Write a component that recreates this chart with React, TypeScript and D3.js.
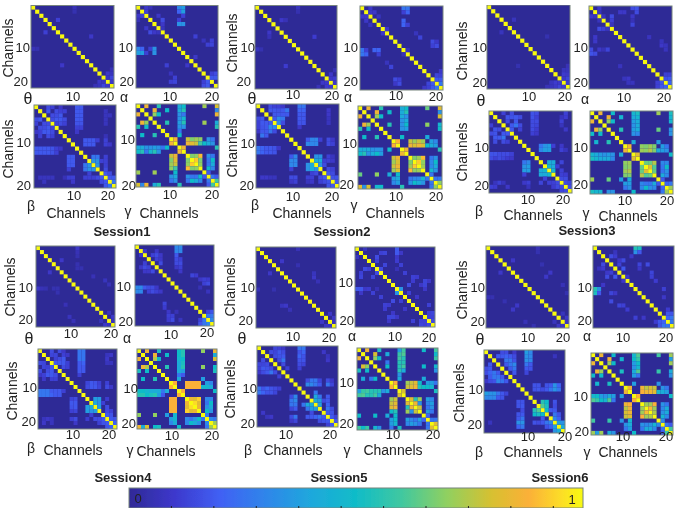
import React from 'react';
import * as d3 from 'd3';

const channels = d3.range(1, 21);
const bandNames = ['θ', 'α', 'β', 'γ'];
const sessionNames = ['Session1', 'Session2', 'Session3', 'Session4', 'Session5', 'Session6'];
const colorValues = [0, 0.1, 0.2, 0.3, 0.4, 0.5, 0.6, 0.7, 0.8, 0.88, 0.95, 1];
const colorSwatches = ['#2f2a96', '#3d38cc', '#4060f4', '#2f85ea', '#1fa8dc', '#10bcc8', '#40c8a0', '#90d060', '#d8c030', '#fbb038', '#fcdc28', '#f8fa10'];
const colorbarTicks = [0.1, 0.2, 0.3, 0.4, 0.5, 0.6, 0.7, 0.8, 0.9, 1];

// upper triangle only, "row col:percent col:percent ..."; diagonal is always 1
const s1Theta = ['1 11:10', '2 11:8', '4 7:20', '8 15:15', '16 20:10', '17 19:15 20:12', '18 19:12 20:22', '19 20:15'];
const s1Alpha = ['1 3:15 4:10 11:38 12:42', '2 3:20 11:32 12:42', '3 6:15 12:20', '4 7:25 11:20', '5 7:15 11:40 12:40', '6 7:12', '8 15:20', '9 17:12 19:20', '10 18:20 19:22', '13 15:15', '17 19:20 20:25', '18 19:30 20:30'];
const s1Beta = ['1 4:25 5:20 7:15 11:30 12:30', '2 4:30 6:25 7:20 8:20 11:30 12:30 18:12', '3 5:25 6:25 7:30 11:30 12:30 18:12 19:12', '4 5:25 6:30 7:30 8:25 11:30 12:30 18:12', '5 6:20 7:25 8:20 11:28 12:28 18:12', '6 11:20 12:20', '7 11:15', '8 18:10', '9 13:30 14:30 15:30 16:20 18:20', '10 13:30 14:30 15:30 18:20 19:15', '13 15:35 16:35 18:20', '14 15:40 16:40 17:20 18:20', '15 16:40 18:20', '16 18:25', '17 18:30 19:25', '18 19:30 20:30', '19 20:35'];
const s1Gamma = ['1 3:85 6:55 11:45 12:50 17:72 20:80', '2 5:85 8:50 11:45 12:55 20:38', '3 5:70 6:50 11:40 12:35 20:85', '4 11:40 12:48', '5 8:55 11:42 12:55 17:72 20:45', '6 11:40 12:40 20:55', '7 11:35', '8 11:50', '9 10:87 13:78 14:68 15:72 16:70 18:40 19:35', '10 13:85 14:82 15:78 16:60 17:50 18:45 19:40', '11 12:85 20:55', '13 14:68 15:70 16:90 18:40 19:35', '14 15:92 16:68 18:35 19:50', '15 16:70 18:35 19:45', '16 18:50 19:38', '17 18:30', '18 19:35 20:30', '19 20:60'];

const s2Theta = ['1 11:12', '2 11:8', '4 7:15 8:10', '8 15:18', '16 20:10', '17 19:15', '18 19:15 20:18', '19 20:15'];
const s2Alpha = ['1 3:15 11:35 12:35', '2 3:15 4:15 11:20 12:32', '3 5:12', '4 11:32', '5 11:32 12:20', '6 7:15', '7 14:12', '8 15:22', '9 18:25 19:15', '10 18:20 19:25', '11 12:10', '16 20:15', '17 19:22 20:20', '18 19:30 20:30', '19 20:35'];
const s2Beta = ['1 4:25 5:20 6:20 7:15 11:35 12:35', '2 4:30 5:30 6:28 7:30 8:35 11:32 12:32 18:15', '3 5:30 6:30 7:30 8:30 11:30 12:30 18:15', '4 5:30 6:38 7:35 11:30 12:30 18:12', '5 6:38 7:25 11:28 12:28 18:12', '6 11:15', '9 13:30 14:38 15:38 16:20 18:25 19:15', '10 13:38 14:38 15:38 18:25 19:20', '13 15:40 16:40 18:20 19:12', '14 15:45 16:45 17:20 18:20 19:15', '15 16:40 17:25', '16 18:25 19:20', '17 18:30 19:25', '18 19:28 20:28', '19 20:30'];
const s2Gamma = ['1 3:85 6:55 11:45 12:50 17:65 20:82', '2 5:85 8:50 11:45 12:55 20:40', '3 5:72 6:50 11:45 12:40 20:80', '4 11:40 12:45', '5 8:55 11:40 12:50 17:70 20:48', '6 11:40 12:42 20:50', '8 11:50 17:45', '9 10:88 13:78 14:72 15:78 16:72 18:42 19:38', '10 13:85 14:80 15:85 16:80 17:50 18:45 19:42', '11 12:85 20:55', '13 14:68 15:72 16:90 18:35 19:40', '14 15:92 16:70 18:38 19:50', '15 16:72 18:38 19:45', '16 18:48 19:40', '17 18:35', '18 19:35 20:35', '19 20:70'];

const s3Theta = ['4 7:12', '8 15:8', '15 20:10', '16 19:12 20:12', '17 19:18 20:15', '18 19:15 20:22', '19 20:18'];
const s3Alpha = ['1 3:15 11:25 12:28', '2 3:12 8:15 9:15 12:25', '3 4:12 6:25 11:15', '4 6:20 11:10', '5 6:12 11:22', '9 18:12', '10 18:15 19:12', '11 19:12', '17 19:20 20:20', '18 19:28 20:30', '19 20:32', '8 15:12'];
const s3Beta = ['1 4:20 6:25 11:28 12:25 19:20', '2 5:28 6:28 7:30 8:25 11:28 12:20 18:12 19:18', '3 5:25 7:30 11:25 12:25 18:20', '4 6:30 7:35 8:25 11:25 12:22 18:12', '5 6:30 8:20 11:25 12:18 19:15', '6 11:20 12:15', '9 13:35 14:40 15:42 16:20 18:15', '10 13:38 14:42 15:42 18:20 19:12', '13 15:45 16:45 18:22', '14 15:48 16:45 17:20', '15 16:48 18:20', '16 18:20 19:18', '17 18:25 19:25', '18 19:25 20:22', '19 20:25'];
const s3Gamma = ['1 3:85 6:50 11:48 12:52 17:72 20:52', '2 5:85 8:48 11:45 12:48 20:48', '3 5:70 6:50 11:42 12:45 20:48', '4 11:40 12:45', '5 8:55 11:42 12:45 17:65 20:40', '6 11:40 12:38 20:40', '8 11:45 17:42', '9 10:85 13:70 14:68 15:72 16:68 18:42 19:35', '10 13:72 14:70 15:75 16:68 17:45 18:42 19:40', '11 12:82 20:50', '13 14:65 15:65 16:75 18:38 19:38', '14 15:82 16:62 18:35 19:50', '15 16:65 18:35 19:40', '16 18:45 19:38', '17 18:30', '18 19:32 20:35', '19 20:72'];

const s4Theta = ['1 11:15', '2 11:10', '3 11:8', '4 7:15', '5 11:8', '6 11:8 12:8', '9 18:12', '10 19:10', '17 19:12', '18 20:15', '19 20:12', '8 15:10'];
const s4Alpha = ['1 11:38 12:38', '2 3:15 6:15 11:38 12:38', '3 5:20 6:25 7:15 11:30', '4 6:20 7:15 11:25 12:20', '5 7:25 11:25 12:25', '6 11:15 12:20', '7 12:15', '8 15:22 16:18', '9 17:15 18:20 19:18', '10 18:20 19:25', '11 17:10', '12 19:12', '17 19:22 20:28', '18 19:35 20:35', '19 20:38'];
const s4Beta = ['1 4:25 6:25 7:15 11:35 12:35', '2 4:22 5:22 7:20 8:15 11:35 12:35 18:12 19:15', '3 5:20 6:25 7:30 11:35 12:35 18:15', '4 5:30 6:30 7:30 8:20 11:30 12:32 18:12 19:12', '5 7:25 8:20 11:30 12:30', '6 11:30 12:30', '7 11:20', '9 13:22 14:30 15:28 16:20 18:20', '10 13:25 14:30 15:30 16:22 18:25 19:15', '13 15:42 16:42 18:18', '14 15:45 16:40 17:20', '15 16:42 18:25', '16 18:25 19:20', '17 18:30 19:28', '18 19:30 20:28', '19 20:32'];
const s4Gamma = ['1 3:85 6:52 11:50 12:55 17:70 20:85', '2 5:85 8:50 11:50 12:55 20:45', '3 5:75 6:50 11:48 12:50 20:80', '4 11:45 12:52', '5 8:55 11:45 12:55 17:70 20:50', '6 11:45 12:42 20:52', '7 11:35 12:30', '8 11:45 17:42', '9 10:88 13:88 14:88 15:88 16:87 18:42 19:38', '10 13:88 14:88 15:88 16:88 17:48 18:48 19:45', '11 12:88 20:50', '13 14:85 15:82 16:93 18:38 19:38', '14 15:95 16:82 18:35 19:50', '15 16:85 18:40 19:45', '16 18:50 19:40', '17 18:35', '18 19:38 20:35', '19 20:72'];

const s5Theta = ['1 11:10', '4 7:15', '5 11:8', '7 15:12', '8 15:15', '9 16:10', '17 19:15', '18 20:15', '19 20:14'];
const s5Alpha = ['1 3:12 11:30', '2 7:20 8:22 11:30 12:15', '3 6:25 11:15', '4 6:20 11:18', '5 8:22 12:20', '6 7:25 11:10', '7 13:20', '8 15:20 16:18', '9 15:18 18:22 19:15', '10 14:25 17:15 18:22', '11 12:40 18:15', '12 14:20', '13 16:15', '15 19:20', '17 19:20 20:22', '18 19:20 20:20', '19 20:25'];
const s5Beta = ['1 5:22 6:20 7:15 11:35 12:35', '2 4:25 5:22 6:30 7:25 11:28 12:32 17:15', '3 5:25 6:28 7:30 11:32 12:28 18:12', '4 6:25 7:35 11:28 12:28 18:15', '5 7:25 11:25 12:22', '6 8:20 11:20', '9 13:25 14:35 15:35 16:22 18:25 19:15', '10 13:38 14:38 15:35 16:30 18:35 19:22', '12 15:35', '13 15:45 16:35 18:30', '14 15:45 16:42 17:25 18:30', '15 16:42 18:32', '16 18:35 19:25', '17 18:30 19:28', '18 19:30 20:20', '19 20:30'];
const s5Gamma = ['1 3:85 6:52 11:42 12:60 17:50 20:60', '2 5:80 8:45 11:58 12:62 20:50', '3 5:70 6:50 11:60 12:55 20:58', '4 8:35 11:55 12:55', '5 8:50 11:55 12:60 17:50 20:48', '6 11:55 12:45 20:40', '7 11:40', '8 11:45 17:45', '9 10:88 13:72 14:78 15:82 16:50 18:42 19:42 20:35', '10 13:78 14:82 15:85 16:55 17:50 18:50 19:48', '11 12:80 20:52', '13 14:82 15:55 16:72 18:42 19:38', '14 15:85 16:40 18:38 19:42', '15 16:78 18:35 19:40', '16 18:42 19:35', '17 18:32', '18 19:35 20:35', '19 20:82'];

const s6Theta = ['1 13:10', '2 13:8', '4 7:15', '5 14:8', '7 16:15', '8 15:15', '10 19:10', '12 20:8', '17 19:12', '18 20:15', '19 20:14'];
const s6Alpha = ['1 11:55 12:52', '2 6:12 11:40 12:30', '3 5:25 6:18 10:15', '4 7:15 8:25', '5 7:20 12:22 14:25', '6 8:30 12:15', '7 15:22', '8 9:15 15:20', '9 16:18', '11 18:20', '13 18:15', '16 19:18', '17 19:30 20:28', '18 19:32 20:35', '19 20:35'];
const s6Beta = ['1 5:25 6:25 8:15 11:42 12:38', '2 4:30 5:30 6:32 7:30 8:25 11:40 12:38 18:12', '3 6:35 7:35 8:28 11:40 12:38', '4 6:30 7:35 8:38 11:35 12:30', '5 7:30 8:35 11:30 12:28', '6 8:30 11:22', '9 13:28 14:28 16:28 17:30 18:40 19:32', '10 13:28 14:30 15:25 16:30 17:35 18:40 19:35', '13 15:55 16:50 18:28', '14 15:62 16:52 18:25', '15 16:50 17:30 18:30', '16 18:35 19:28', '17 18:38 19:32', '18 19:42 20:40', '19 20:45'];
const s6Gamma = ['1 3:85 6:50 11:48 12:62 17:60 20:72', '2 5:85 8:48 11:50 12:58 20:42', '3 5:72 6:50 11:42 12:50 20:72', '4 11:40 12:48', '5 8:52 11:45 12:62 17:58 20:45', '6 11:42 12:35 20:40', '8 11:42 17:40', '9 10:85 13:85 14:76 15:80 16:78 18:40 19:35', '10 13:88 14:85 15:85 16:82 17:48 18:45 19:42', '11 12:88 20:50', '13 14:72 15:72 16:88 18:40 19:35', '14 15:90 16:72 18:38 19:45', '15 16:74 18:40 19:45', '16 18:48 19:38', '17 18:38', '18 19:35 20:30', '19 20:60'];

const matrices = [
  [s1Theta, s1Alpha, s1Beta, s1Gamma],
  [s2Theta, s2Alpha, s2Beta, s2Gamma],
  [s3Theta, s3Alpha, s3Beta, s3Gamma],
  [s4Theta, s4Alpha, s4Beta, s4Gamma],
  [s5Theta, s5Alpha, s5Beta, s5Gamma],
  [s6Theta, s6Alpha, s6Beta, s6Gamma],
];

// layout per panel: box x0 y0 x1 y1, y tick labels (right, base), x tick labels (centre, base), symbol (centre, base)
const layout = [
  { title: [122, 236], panels: [
    { box: [31, 5.5, 114, 88], yt: [[30, 52], [28, 86]], xt: [[73, 101], [107, 101]], sym: [28, 104], ch: [13, 48] },
    { box: [136, 5.5, 218, 88], yt: [[133, 52], [134, 86]], xt: [[170, 101], [212, 101]], sym: [124, 102] },
    { box: [34, 105, 116, 188], yt: [[31, 147], [31, 190]], xt: [[74, 200], [108, 200]], sym: [31, 211], ch: [13, 149], xl: [76, 218] },
    { box: [136, 104, 219, 187], yt: [[135, 144], [136, 190]], xt: [[170, 199], [212, 199]], sym: [128, 216], xl: [169, 218] },
  ] },
  { title: [342, 236], panels: [
    { box: [255, 5.5, 337, 89], yt: [[255, 52], [251, 86]], xt: [[293, 99], [332, 100]], sym: [252, 104], ch: [237, 43] },
    { box: [360, 6, 443, 90], yt: [[358, 52], [358, 86]], xt: [[396, 100], [436, 101]], sym: [348, 102] },
    { box: [256, 104, 339, 188], yt: [[255, 148], [254, 190]], xt: [[293, 201], [332, 201]], sym: [255, 210], ch: [237, 148], xl: [302, 218] },
    { box: [358, 106, 442, 189], yt: [[357, 148], [354, 189]], xt: [[396, 201], [436, 201]], sym: [354, 210], xl: [395, 218] },
  ] },
  { title: [587, 235], panels: [
    { box: [487, 5, 570, 89], yt: [[487, 52], [487, 87]], xt: [[529, 101], [565, 101]], sym: [481, 106], ch: [467, 51] },
    { box: [589, 6, 672, 89], yt: [[588, 52], [588, 87]], xt: [[624, 102], [664, 102]], sym: [585, 104] },
    { box: [489, 111, 572, 193], yt: [[489, 152], [489, 190]], xt: [[528, 204], [563, 204]], sym: [479, 216], ch: [467, 152], xl: [533, 220] },
    { box: [590, 111, 673, 194], yt: [[588, 152], [588, 189]], xt: [[625, 205], [667, 205]], sym: [586, 218], xl: [628, 221] },
  ] },
  { title: [123, 482], panels: [
    { box: [36, 246, 115, 327], yt: [[33, 292], [33, 324]], xt: [[71, 338], [111, 338]], sym: [29, 344], ch: [15, 287] },
    { box: [135, 245, 214, 326], yt: [[131, 291], [133, 326]], xt: [[171, 339], [207, 337]], sym: [127, 343] },
    { box: [38, 349, 117, 429], yt: [[37, 392], [36, 426]], xt: [[73, 439], [109, 439]], sym: [31, 453], ch: [17, 391], xl: [73, 455] },
    { box: [137, 349, 217, 429], yt: [[138, 393], [136, 428]], xt: [[172, 440], [212, 440]], sym: [130, 455], xl: [166, 456] },
  ] },
  { title: [339, 482], panels: [
    { box: [256, 247, 336, 328], yt: [[255, 292], [253, 325]], xt: [[293, 341], [329, 342]], sym: [242, 344], ch: [235, 287] },
    { box: [355, 247, 435, 327], yt: [[353, 287], [354, 325]], xt: [[395, 341], [429, 342]], sym: [352, 341] },
    { box: [257, 346, 338, 427], yt: [[257, 393], [255, 428]], xt: [[286, 439], [330, 439]], sym: [248, 455], ch: [235, 389], xl: [293, 455] },
    { box: [357, 348, 438, 430], yt: [[354, 387], [354, 428]], xt: [[393, 439], [433, 439]], sym: [347, 455], xl: [393, 455] },
  ] },
  { title: [560, 482], panels: [
    { box: [486, 246, 569, 328], yt: [[485, 292], [485, 326]], xt: [[528, 342], [563, 342]], sym: [480, 345], ch: [467, 290] },
    { box: [593, 246, 674, 328], yt: [[592, 292], [592, 325]], xt: [[623, 342], [666, 342]], sym: [587, 341] },
    { box: [484, 350, 565, 433], yt: [[483, 394], [482, 429]], xt: [[528, 441], [565, 441]], sym: [479, 457], ch: [464, 393], xl: [533, 457] },
    { box: [591, 353, 673, 435], yt: [[588, 401], [589, 436]], xt: [[623, 441], [666, 441]], sym: [587, 457], xl: [628, 457] },
  ] },
];

const color = d3.scaleLinear<string>().domain(colorValues).range(colorSwatches).clamp(true);
// low readings sit lower on the colour bar than they first look
const calibrate = d3.scaleLinear().domain([0, 0.3, 0.5, 1]).range([0, 0.18, 0.5, 1]);

const parseRows = (rows: string[]) => {
  const cells: { r: number; c: number; v: number }[] = channels.map(i => ({ r: i, c: i, v: 1 }));
  rows.forEach(row => {
    const [head, ...rest] = row.split(' ');
    rest.forEach(part => {
      const [c, p] = part.split(':');
      const v = calibrate(+p / 100);
      cells.push({ r: +head, c: +c, v });
      cells.push({ r: +c, c: +head, v });
    });
  });
  return cells;
};

const textColor = '#222';
const font = '"Liberation Sans", Arial, sans-serif';

const Panel = ({ spec, rows, symbol }: any) => {
  const [x0, y0, x1, y1] = spec.box;
  const x = d3.scaleBand<number>().domain(channels).range([x0, x1]);
  const y = d3.scaleBand<number>().domain(channels).range([y0, y1]);
  return (
    <g>
      <rect x={x0} y={y0} width={x1 - x0} height={y1 - y0} fill={color(0)} />
      {parseRows(rows).map(d => (
        <rect key={d.r + '-' + d.c} x={x(d.c)} y={y(d.r)} width={x.bandwidth()} height={y.bandwidth()} fill={color(d.v)} />
      ))}
      <rect x={x0} y={y0} width={x1 - x0} height={y1 - y0} fill="none" stroke="#77847f" strokeWidth={1} />
      {spec.yt.map((p: number[], i: number) => (
        <text key={'y' + i} x={p[0]} y={p[1]} textAnchor="end" fontSize={13}>{(i + 1) * 10}</text>
      ))}
      {spec.xt.map((p: number[], i: number) => (
        <text key={'x' + i} x={p[0]} y={p[1]} textAnchor="middle" fontSize={13}>{(i + 1) * 10}</text>
      ))}
      <text x={spec.sym[0]} y={spec.sym[1]} textAnchor="middle" fontSize={symbol === 'θ' ? 16 : 14}>{symbol}</text>
      {spec.ch && (
        <text transform={`translate(${spec.ch[0]},${spec.ch[1]}) rotate(-90)`} textAnchor="middle" fontSize={14}>Channels</text>
      )}
      {spec.xl && (
        <text x={spec.xl[0]} y={spec.xl[1]} textAnchor="middle" fontSize={14}>Channels</text>
      )}
    </g>
  );
};

const App = () => {
  const tickX = d3.scaleLinear().domain([0, 1.07]).range([129, 583]);
  return (
    <svg width={680} height={512} style={{ position: 'absolute', left: 0, top: 0, background: '#fff' }} fontFamily={font} fill={textColor}>
      <defs>
        <filter id="soft" x="0" y="0" width="100%" height="100%">
          <feGaussianBlur stdDeviation="0.55" />
        </filter>
        <linearGradient id="bar">
          {colorValues.map((v, i) => (
            <stop key={v} offset={v} stopColor={colorSwatches[i]} />
          ))}
        </linearGradient>
      </defs>
      <g filter="url(#soft)">
        {layout.map((s, i) => (
          <g key={i}>
            {s.panels.map((spec, j) => (
              <Panel key={j} spec={spec} rows={matrices[i][j]} symbol={bandNames[j]} />
            ))}
            <text x={s.title[0]} y={s.title[1]} textAnchor="middle" fontSize={13} fontWeight="bold">{sessionNames[i]}</text>
          </g>
        ))}
        <rect x={129} y={488} width={454} height={20} fill="url(#bar)" stroke="#77847f" />
        {colorbarTicks.map(t => (
          <line key={t} x1={tickX(t)} x2={tickX(t)} y1={508} y2={506} stroke="#222" />
        ))}
        <text x={138} y={503} textAnchor="middle" fontSize={13}>0</text>
        <text x={572} y={504} textAnchor="middle" fontSize={13}>1</text>
      </g>
    </svg>
  );
};

export default App;
